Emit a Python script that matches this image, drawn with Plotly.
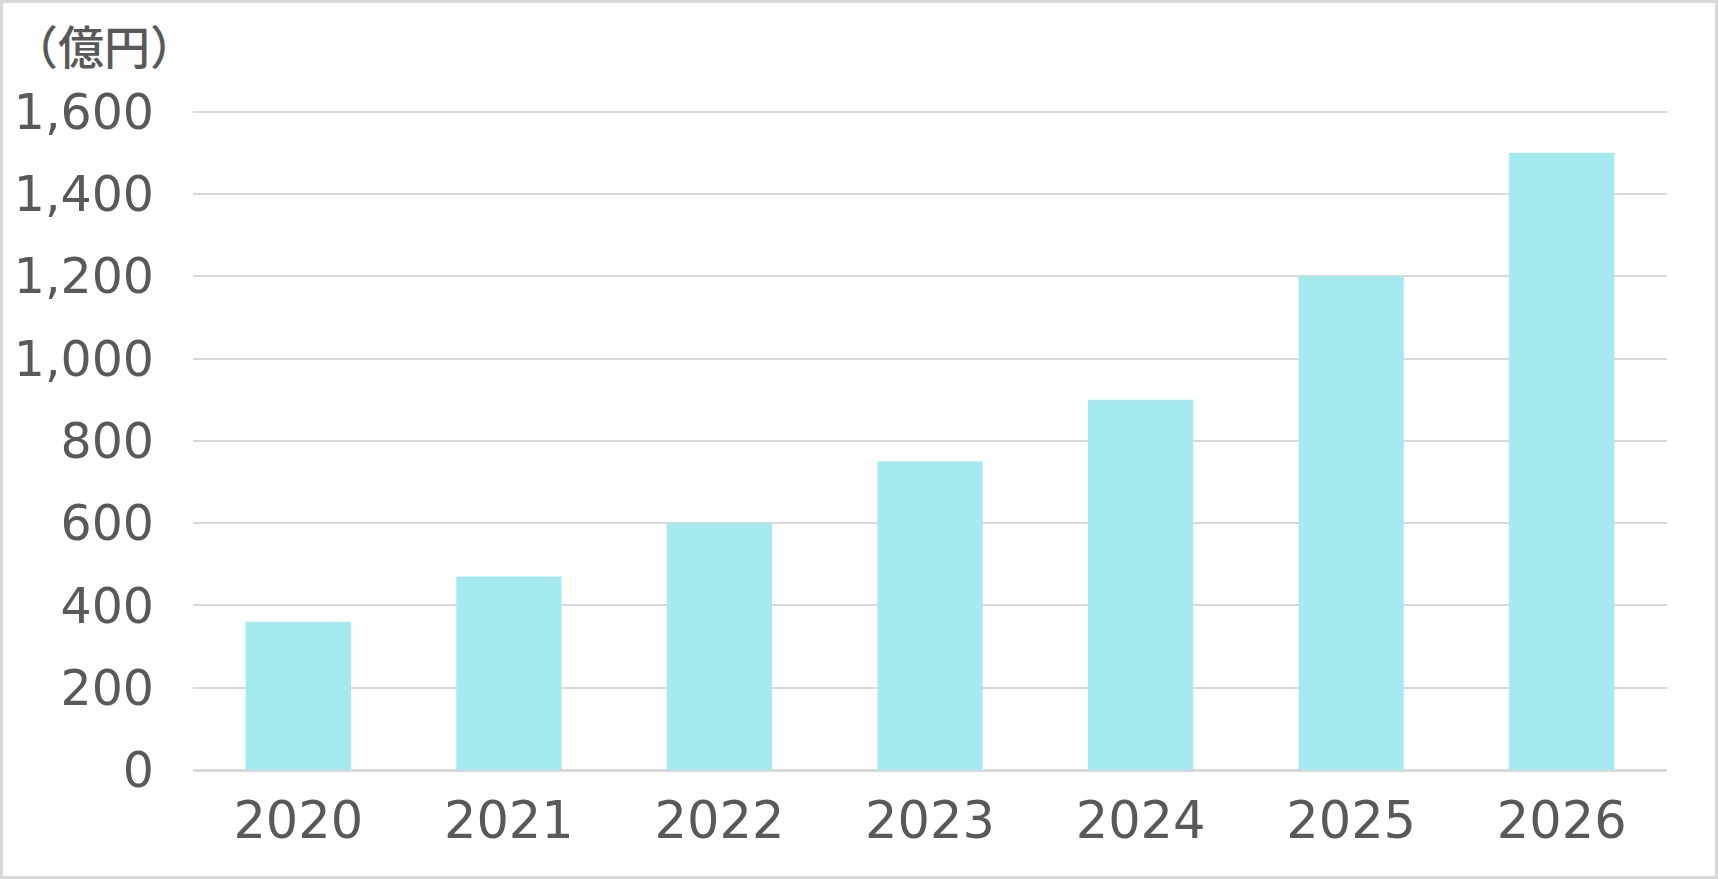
import plotly.graph_objects as go

years = ["2020", "2021", "2022", "2023", "2024", "2025", "2026"]
values = [360, 470, 600, 750, 900, 1200, 1500]
y_ticks = [0, 200, 400, 600, 800, 1000, 1200, 1400, 1600]
y_tick_labels = ["0", "200", "400", "600", "800", "1,000", "1,200", "1,400", "1,600"]
unit_label = "（億円）"

W, H = 1718, 879
y_top = 1604
ml, mr, mt, mb = 193, 51, 110, 109
pw, ph = W - ml - mr, H - mt - mb

font_family = "DejaVu Sans, Noto Sans, sans-serif"
cjk_family = "Noto Sans CJK JP, sans-serif"
text_color = "#595959"
grid_color = "#d9d9d9"

fig = go.Figure(go.Bar(x=years, y=values, marker=dict(color="#a6eaf1", line=dict(width=0)),
                       hoverinfo="x+y"))

fig.update_layout(
    width=W, height=H,
    margin=dict(l=ml, r=mr, t=mt, b=mb, autoexpand=False),
    paper_bgcolor="white", plot_bgcolor="white",
    bargap=0.5,
    showlegend=False,
    font=dict(family=font_family, color=text_color, size=48),
)
fig.update_xaxes(
    type="category", showgrid=False, showline=False, zeroline=False, automargin=False,
    tickfont=dict(size=51, color=text_color, family=font_family),
    ticks="", ticklabelstandoff=16,
)
fig.update_yaxes(
    range=[0, y_top], tickmode="array", tickvals=y_ticks, ticktext=y_tick_labels,
    showgrid=True, gridcolor=grid_color, gridwidth=2, automargin=False,
    zeroline=True, zerolinecolor=grid_color, zerolinewidth=3,
    showline=False, ticks="", ticklabelstandoff=38,
    tickfont=dict(size=49, color=text_color, family=font_family),
)

fig.add_annotation(
    text=unit_label, xref="paper", yref="paper",
    x=(10 - ml) / pw, y=1 + (mt - 44) / ph, xanchor="left", yanchor="middle",
    showarrow=False, font=dict(size=46, color=text_color, family=cjk_family, weight=500),
)

fig.add_shape(
    type="rect", xref="paper", yref="paper",
    x0=-(ml - 1.5) / pw, x1=1 + (mr - 1.5) / pw,
    y0=-(mb - 1.5) / ph, y1=1 + (mt - 1.5) / ph,
    line=dict(color=grid_color, width=3), fillcolor="rgba(0,0,0,0)", layer="above",
)

fig.write_html(
    "out.html",
    config={"displayModeBar": False},
    post_script="document.body.style.margin='0';document.body.style.overflow='hidden';",
)
